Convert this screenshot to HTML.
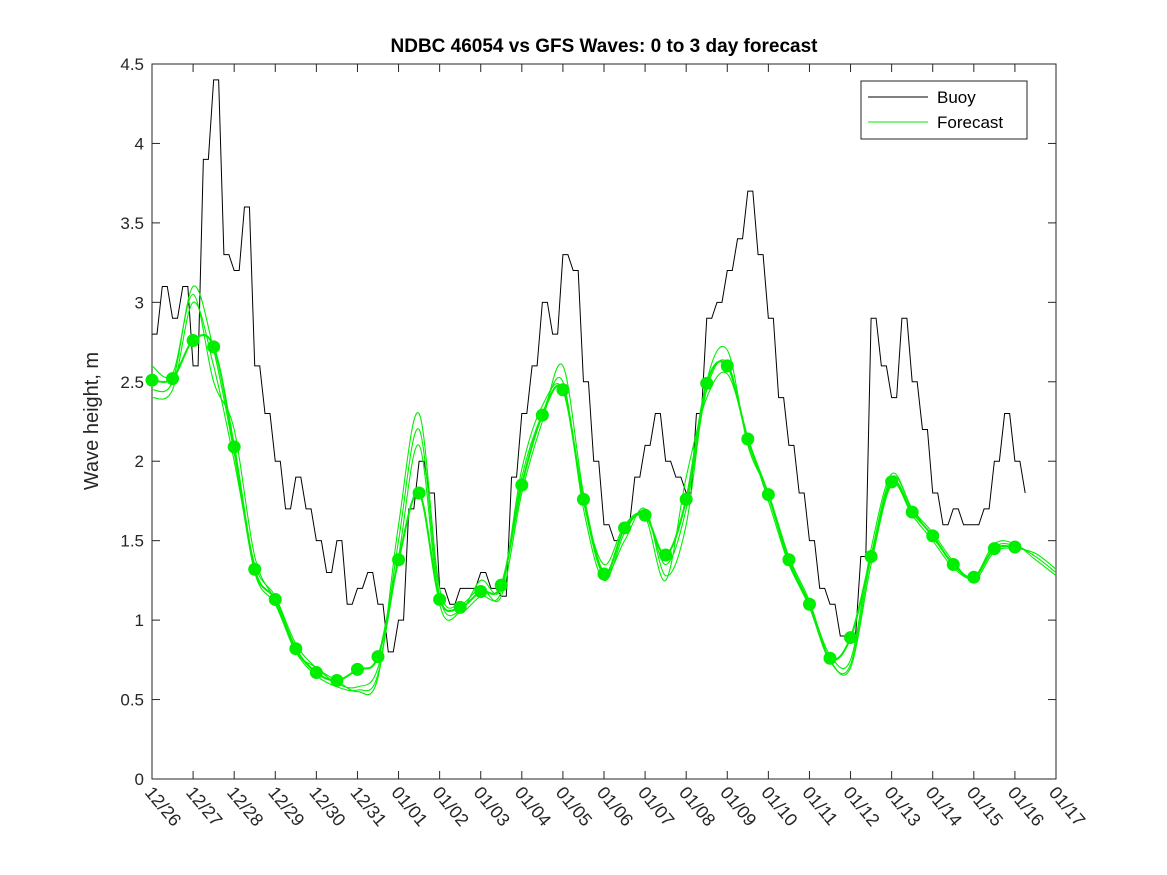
<!DOCTYPE html>
<html><head><meta charset="utf-8"><style>
body{margin:0;background:#fff}
svg{display:block;font-family:"Liberation Sans","DejaVu Sans",sans-serif}
</style></head><body>
<svg id="c" width="1167" height="875"></svg>
<script>
const yTicks=[0,0.5,1,1.5,2,2.5,3,3.5,4,4.5];
const xLabels=["12/26","12/27","12/28","12/29","12/30","12/31","01/01","01/02","01/03","01/04","01/05","01/06","01/07","01/08","01/09","01/10","01/11","01/12","01/13","01/14","01/15","01/16","01/17"];
const dots=[2.51,2.52,2.76,2.72,2.09,1.32,1.13,0.82,0.67,0.62,0.69,0.77,1.38,1.80,1.13,1.08,1.18,1.22,1.85,2.29,2.45,1.76,1.29,1.58,1.66,1.41,1.76,2.49,2.60,2.14,1.79,1.38,1.10,0.76,0.89,1.40,1.87,1.68,1.53,1.35,1.27,1.45,1.46];
const fcA=[2.45,2.5,3.1,2.7,2.05,1.3,1.1,0.8,0.65,0.58,0.56,0.66,1.5,2.2,1.15,1.05,1.15,1.18,1.9,2.3,2.5,1.7,1.25,1.55,1.68,1.35,1.7,2.45,2.62,2.12,1.78,1.36,1.08,0.74,0.72,1.4,1.9,1.7,1.52,1.36,1.26,1.46,1.47,1.40,1.30];
const fcB=[2.4,2.45,3.0,2.6,2.0,1.35,1.15,0.85,0.7,0.62,0.55,0.64,1.6,2.3,1.2,1.1,1.2,1.15,1.8,2.25,2.6,1.8,1.3,1.5,1.7,1.28,1.6,2.5,2.7,2.1,1.8,1.4,1.12,0.75,0.7,1.35,1.85,1.66,1.5,1.33,1.27,1.48,1.48,1.38,1.28];
const fcC=[2.6,2.55,3.05,2.5,2.2,1.4,1.12,0.8,0.7,0.6,0.58,0.7,1.4,2.1,1.1,1.05,1.25,1.2,1.95,2.35,2.45,1.75,1.35,1.6,1.65,1.25,1.9,2.4,2.55,2.15,1.75,1.35,1.1,0.78,0.75,1.45,1.92,1.7,1.55,1.37,1.25,1.43,1.45,1.42,1.32];
const buoy=[2.8,3.1,2.9,3.1, 2.6,3.9,4.4,3.3, 3.2,3.6,2.6,2.3, 2.0,1.7,1.9,1.7, 1.5,1.3,1.5,1.1, 1.2,1.3,1.1,0.8, 1.0,1.7,2.0,1.8, 1.2,1.1,1.2,1.2, 1.3,1.2,1.15,1.9, 2.3,2.6,3.0,2.8, 3.3,3.2,2.5,2.0, 1.6,1.5,1.6,1.9, 2.1,2.3,2.0,1.9, 1.8,2.3,2.9,3.0, 3.2,3.4,3.7,3.3, 2.9,2.4,2.1,1.8, 1.5,1.2,1.1,0.9, 0.9,1.4,2.9,2.6, 2.4,2.9,2.5,2.2, 1.8,1.6,1.7,1.6, 1.6,1.7,2.0,2.3, 2.0,1.8];
const X0=152,X1=1056,Y0=779,Y1=64;
const xs=d=>X0+d*(X1-X0)/22, ys=v=>Y0-v*(Y0-Y1)/4.5;
const svg=document.getElementById('c');const NS='http://www.w3.org/2000/svg';
function mk(t,a,p){const e=document.createElementNS(NS,t);for(const k in a)e.setAttribute(k,a[k]);(p||svg).appendChild(e);return e;}
let e=mk('rect',{x:X0,y:Y1,width:X1-X0,height:Y0-Y1,fill:'#fff',stroke:'#262626','stroke-width':1});


yTicks.forEach(v=>{const y=ys(v);
mk('line',{x1:X0,x2:X0+8,y1:y,y2:y,stroke:'#262626'});mk('line',{x1:X1,x2:X1-8,y1:y,y2:y,stroke:'#262626'});
const t=mk('text',{x:X0-8,y:y+6,'text-anchor':'end','font-size':17,fill:'#262626'});t.textContent=String(v);

});
xLabels.forEach((l,i)=>{const x=xs(i);
mk('line',{x1:x,x2:x,y1:Y0,y2:Y0-8,stroke:'#262626'});mk('line',{x1:x,x2:x,y1:Y1,y2:Y1+8,stroke:'#262626'});
const t=mk('text',{x:x-8,y:Y0+14,'font-size':18,fill:'#262626',transform:`rotate(50 ${x-8} ${Y0+14})`});t.textContent=l;

});
function smooth(arr,step){const p=arr.map((v,i)=>[xs(i*step),ys(v)]);let d=`M${p[0][0]},${p[0][1]}`;
for(let i=0;i<p.length-1;i++){const a=p[Math.max(i-1,0)],b=p[i],c=p[i+1],n=p[Math.min(i+2,p.length-1)];
d+=`C${b[0]+(c[0]-a[0])/6},${b[1]+(c[1]-a[1])/6} ${c[0]-(n[0]-b[0])/6},${c[1]-(n[1]-b[1])/6} ${c[0]},${c[1]}`;}return d;}
let bd='';buoy.forEach((v,i)=>{const x=xs(i*0.25),y=ys(v);bd+=(i?'L':'M')+x+','+y;if(i<buoy.length-1)bd+='L'+(x+5)+','+y;});
e=mk('path',{d:bd,fill:'none',stroke:'#000','stroke-width':1});


[fcA,fcB,fcC].forEach(f=>{e=mk('path',{d:smooth(f,0.5),fill:'none',stroke:'#00ee00','stroke-width':1.1});

});
e=mk('path',{d:smooth(dots,0.5),fill:'none',stroke:'#00ee00','stroke-width':2});


dots.forEach((v,i)=>{e=mk('circle',{cx:xs(i*0.5),cy:ys(v),r:6.5,fill:'#00ee00'});

});
const g=mk('g',{});
mk('rect',{x:861,y:81,width:166,height:58,fill:'#fff',stroke:'#262626'},g);
mk('line',{x1:868,x2:928,y1:97,y2:97,stroke:'#000'},g);
mk('line',{x1:868,x2:928,y1:122,y2:122,stroke:'#00ee00'},g);
let t=mk('text',{x:937,y:103,'font-size':17,fill:'#000'},g);t.textContent='Buoy';
t=mk('text',{x:937,y:128,'font-size':17,fill:'#000'},g);t.textContent='Forecast';
t=mk('text',{x:604,y:52,'text-anchor':'middle','font-size':19,'font-weight':'bold',fill:'#000'});t.textContent='NDBC 46054 vs GFS Waves: 0 to 3 day forecast';


t=mk('text',{x:98,y:421,'text-anchor':'middle','font-size':20,fill:'#262626',transform:'rotate(-90 98 421)'});t.textContent='Wave height, m';


</script>
</body></html>
